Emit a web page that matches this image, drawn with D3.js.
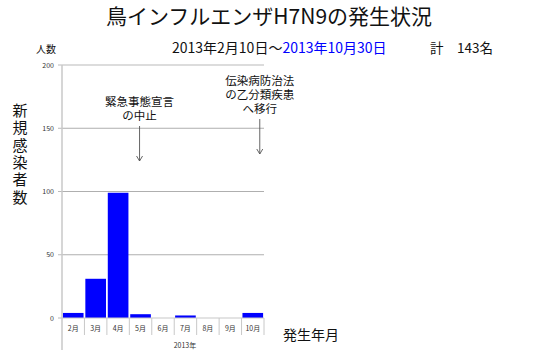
<!DOCTYPE html>
<html>
<head>
<meta charset="utf-8">
<script src="https://cdn.jsdelivr.net/npm/d3@7"></script>
<style>
  body { margin: 0; background: #fff; }
  text { font-family: "Noto Sans CJK JP", "Noto Sans", sans-serif; }
</style>
</head>
<body>
<svg id="chart" width="550" height="355"></svg>
<script>
// data
var months = ["2月", "3月", "4月", "5月", "6月", "7月", "8月", "9月", "10月"];
var cases = [4, 31, 99, 3, 0, 2, 0, 0, 4];
var yTicks = [0, 50, 100, 150, 200];
var notes = [
  { month: "5月", lines: ["緊急事態宣言", "の中止"] },
  { month: "10月", lines: ["伝染病防治法", "の乙分類疾患", "へ移行"] }
];

var svg = d3.select("#chart");
var mLeft = 62, mRight = 264, mTop = 65, mBottom = 318;

var x = d3.scaleBand().domain(months).range([mLeft, mRight]).paddingInner(0.08).paddingOuter(0.04);
var xb = d3.scaleBand().domain(months).range([mLeft, mRight]);
var y = d3.scaleLinear().domain([0, 200]).range([mBottom, mTop]);

// gridlines
svg.selectAll("line.grid").data(yTicks.slice(1)).enter().append("line")
  .attr("x1", mLeft).attr("x2", mRight)
  .attr("y1", d => y(d)).attr("y2", d => y(d))
  .attr("stroke", d => d == 200 ? "#d0d0d0" : "#9a9a9a")
  .attr("stroke-width", d => d == 200 ? 1.5 : 0.8);

// y axis labels
svg.selectAll("text.ytick").data(yTicks).enter().append("text")
  .attr("x", 54).attr("y", d => y(d) + 2.5)
  .attr("text-anchor", "end").attr("font-size", 7).attr("fill", "#333")
  .text(d => d);
svg.selectAll("line.ytk").data(yTicks).enter().append("line")
  .attr("x1", 58).attr("x2", mLeft).attr("y1", d => y(d)).attr("y2", d => y(d))
  .attr("stroke", "#bbb");

// bars
svg.selectAll("rect.bar").data(cases).enter().append("rect")
  .attr("x", (d, i) => x(months[i]))
  .attr("width", x.bandwidth())
  .attr("y", d => y(d))
  .attr("height", d => y(0) - y(d))
  .attr("fill", "#0000ff");

// axes lines
svg.append("line").attr("x1", mLeft).attr("x2", mLeft).attr("y1", mTop).attr("y2", 350)
  .attr("stroke", "#c8c8c8").attr("stroke-width", 1.5);
svg.append("line").attr("x1", mLeft).attr("x2", mRight).attr("y1", mBottom).attr("y2", mBottom)
  .attr("stroke", "#c8c8c8").attr("stroke-width", 1.2);
svg.selectAll("line.sep").data(months.slice(1).concat(["end"])).enter().append("line")
  .attr("x1", (d, i) => i < months.length - 1 ? xb(d) : mRight)
  .attr("x2", (d, i) => i < months.length - 1 ? xb(d) : mRight)
  .attr("y1", mBottom).attr("y2", 335)
  .attr("stroke", "#c8c8c8");

svg.selectAll("text.xlab").data(months).enter().append("text")
  .attr("x", d => xb(d) + xb.bandwidth() / 2).attr("y", 331)
  .attr("text-anchor", "middle").attr("font-size", 7).attr("fill", "#333")
  .text(d => d);
svg.append("text").attr("x", 185).attr("y", 348).attr("text-anchor", "middle")
  .attr("font-size", 7).attr("fill", "#333").text("2013年");

// titles
svg.append("text").attr("x", 269).attr("y", 24).attr("text-anchor", "middle")
  .attr("font-size", 21).attr("fill", "#111").text("鳥インフルエンザH7N9の発生状況");
var sub = svg.append("text").attr("x", 172).attr("y", 53).attr("font-size", 14).attr("fill", "#111");
sub.append("tspan").text("2013年2月10日～");
sub.append("tspan").attr("fill", "#0000ff").text("2013年10月30日");
svg.append("text").attr("x", 430).attr("y", 53).attr("font-size", 13.5).attr("fill", "#111")
  .text("計　143名");
svg.append("text").attr("x", 36).attr("y", 53).attr("font-size", 10).attr("fill", "#111").text("人数");

// vertical y title
svg.selectAll("text.ytitle").data("新規感染者数".split("")).enter().append("text")
  .attr("x", 20).attr("y", (d, i) => 116 + i * 17.3)
  .attr("text-anchor", "middle").attr("font-size", 15).attr("fill", "#111")
  .text(d => d);

svg.append("text").attr("x", 283).attr("y", 340).attr("font-size", 14).attr("fill", "#111")
  .text("発生年月");

// annotations with arrows
notes.forEach(function (n, k) {
  var cx = xb(n.month) + xb.bandwidth() / 2 + (k == 0 ? -1 : 7);
  var startY = k == 0 ? 106 : 85;
  n.lines.forEach(function (t, j) {
    svg.append("text").attr("x", cx).attr("y", startY + j * 14)
      .attr("text-anchor", "middle").attr("font-size", 11.5).attr("fill", "#111").text(t);
  });
  var a0 = startY + (n.lines.length - 1) * 14 + 6, a1 = a0 + 35;
  svg.append("line").attr("x1", cx).attr("x2", cx).attr("y1", a0).attr("y2", a1)
    .attr("stroke", "#555").attr("stroke-width", 0.9);
  svg.append("path").attr("d", `M${cx - 3},${a1 - 5} L${cx},${a1} L${cx + 3},${a1 - 5}`)
    .attr("fill", "none").attr("stroke", "#555").attr("stroke-width", 0.9);
});
</script>
</body>
</html>
